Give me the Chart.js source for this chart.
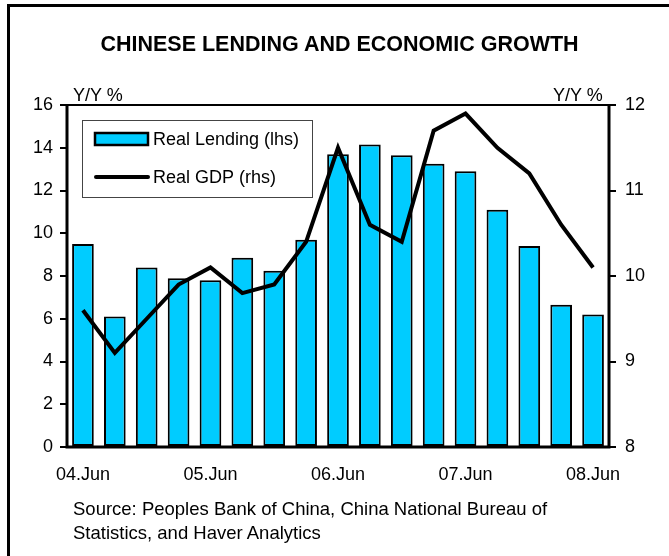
<!DOCTYPE html>
<html>
<head>
<meta charset="utf-8">
<script src="https://cdn.jsdelivr.net/npm/chart.js@4.4.0/dist/chart.umd.min.js"></script>
<style>
  body { margin: 0; background: #fff; }
  #wrap { position: relative; width: 669px; height: 556px; overflow: hidden; font-family: "Liberation Sans", Arial, sans-serif; color: #000; }
  #frame { position: absolute; left: 7px; top: 4px; width: 700px; height: 600px; border-top: 3px solid #000; border-left: 3px solid #000; }
  #chart { position: absolute; left: 0; top: 0; }
  .txt { position: absolute; font-size: 18px; white-space: nowrap; line-height: 24px; }
  #title { left: 0; width: 679px; top: 32px; text-align: center; font-weight: bold; font-size: 21.5px; }
</style>
</head>
<body>
<div id="wrap">
  <div id="frame"></div>
  <canvas id="chart" width="669" height="556"></canvas>
  <div id="title" class="txt">CHINESE LENDING AND ECONOMIC GROWTH</div>
  <div class="txt" style="left:73px; top:83px;">Y/Y %</div>
  <div class="txt" style="left:553px; top:83px;">Y/Y %</div>
  <div class="txt" style="left:73px; top:497px; font-size:18.5px;">Source: Peoples Bank of China, China National Bureau of<br>Statistics, and Haver Analytics</div>
</div>
<script>
// quarterly data, Jun 2004 - Jun 2008
const quarters = ['04.Jun', '04.Sep', '04.Dec', '05.Mar', '05.Jun', '05.Sep', '05.Dec', '06.Mar',
    '06.Jun', '06.Sep', '06.Dec', '07.Mar', '07.Jun', '07.Sep', '07.Dec', '08.Mar', '08.Jun'];
const realLending = [9.5, 6.1, 8.4, 7.9, 7.8, 8.85, 8.25, 9.7, 13.7, 14.15, 13.65, 13.25, 12.9, 11.1, 9.4, 6.65, 6.2];
const realGdp = [9.6, 9.1, 9.5, 9.9, 10.1, 9.8, 9.9, 10.4, 11.5, 10.6, 10.4, 11.7, 11.9, 11.5, 11.2, 10.6, 10.1];
const lhsTicks = [0, 2, 4, 6, 8, 10, 12, 14, 16];
const rhsTicks = [8, 9, 10, 11, 12];

const FONT = { family: '"Liberation Sans", Arial, sans-serif', size: 18 };

// plot frame drawn over the bars
const framePlugin = {
    id: 'plotFrame',
    afterDatasetsDraw(chart) {
        const { ctx, chartArea: a } = chart;
        ctx.save();
        ctx.strokeStyle = '#000';
        ctx.lineWidth = 2;
        ctx.beginPath(); ctx.moveTo(a.left, a.top); ctx.lineTo(a.right, a.top); ctx.stroke();
        ctx.lineWidth = 3;
        ctx.beginPath();
        ctx.moveTo(a.left, a.top - 1); ctx.lineTo(a.left, a.bottom);
        ctx.lineTo(a.right, a.bottom); ctx.lineTo(a.right, a.top - 1);
        ctx.stroke();
        ctx.restore();
    }
};

// boxed legend inside the plot
const boxLegend = {
    id: 'boxLegend',
    afterDraw(chart) {
        const ctx = chart.ctx;
        const ds = chart.data.datasets;
        ctx.save();
        ctx.fillStyle = '#fff';
        ctx.fillRect(82, 120, 230, 77);
        ctx.strokeStyle = '#444';
        ctx.lineWidth = 1;
        ctx.strokeRect(82.5, 120.5, 230, 77);
        // bar entry
        ctx.fillStyle = ds[1].backgroundColor;
        ctx.fillRect(95, 133, 53, 12);
        ctx.strokeStyle = '#000';
        ctx.lineWidth = 2.5;
        ctx.strokeRect(95, 133, 53, 12);
        // line entry
        ctx.lineWidth = 4;
        ctx.lineCap = 'round';
        ctx.beginPath(); ctx.moveTo(96, 177); ctx.lineTo(148, 177); ctx.stroke();
        ctx.fillStyle = '#000';
        ctx.font = '18px ' + FONT.family;
        ctx.textBaseline = 'middle';
        ctx.fillText(ds[1].label, 153, 140);
        ctx.fillText(ds[0].label, 153, 178);
        ctx.restore();
    }
};

new Chart(document.getElementById('chart'), {
    data: {
        labels: quarters,
        datasets: [{
            type: 'line',
            label: 'Real GDP (rhs)',
            data: realGdp,
            yAxisID: 'y1',
            borderColor: '#000',
            borderWidth: 4,
            pointRadius: 0,
            tension: 0,
            order: 0
        }, {
            type: 'bar',
            label: 'Real Lending (lhs)',
            data: realLending,
            yAxisID: 'y',
            backgroundColor: '#00CCFF',
            borderColor: '#000',
            borderWidth: 2,
            borderSkipped: false,
            barPercentage: 0.68,
            categoryPercentage: 1,
            order: 1
        }]
    },
    options: {
        responsive: false,
        animation: false,
        devicePixelRatio: 1,
        layout: { padding: { top: 105, bottom: 64, left: 0, right: 0 } },
        plugins: { legend: { display: false }, tooltip: { enabled: false } },
        scales: {
            x: {
                offset: true,
                grid: { display: false, drawTicks: false },
                border: { display: false },
                ticks: {
                    autoSkip: false, maxRotation: 0, padding: 17,
                    color: '#000', font: FONT,
                    callback: (v, i) => (i % 4 === 0 ? quarters[i] : '')
                },
                afterFit: s => { s.height = 45; }
            },
            y: {
                position: 'left',
                min: lhsTicks[0], max: lhsTicks[lhsTicks.length - 1],
                afterBuildTicks: s => { s.ticks = lhsTicks.map(v => ({ value: v })); },
                grid: { drawOnChartArea: false, tickLength: 7, color: '#000', lineWidth: 2 },
                border: { display: false },
                ticks: { padding: 7, color: '#000', font: FONT },
                afterFit: s => { s.width = 67; }
            },
            y1: {
                position: 'right',
                min: rhsTicks[0], max: rhsTicks[rhsTicks.length - 1],
                afterBuildTicks: s => { s.ticks = rhsTicks.map(v => ({ value: v })); },
                grid: { drawOnChartArea: false, tickLength: 7, color: '#000', lineWidth: 2 },
                border: { display: false },
                ticks: { padding: 9, color: '#000', font: FONT },
                afterFit: s => { s.width = 60; }
            }
        }
    },
    plugins: [framePlugin, boxLegend]
});
</script>
</body>
</html>
